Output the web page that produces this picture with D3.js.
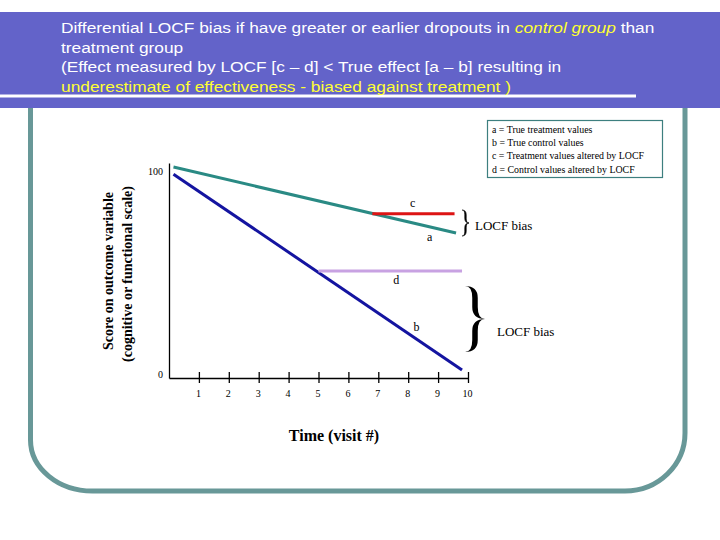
<!DOCTYPE html>
<html><head><meta charset="utf-8">
<script src="https://cdn.jsdelivr.net/npm/d3@7"></script>
<style>body{margin:0;background:#fff}svg{display:block}</style>
</head><body>
<svg id="c" width="720" height="540"></svg>
<script>
// ---- data ----
const titleLines = [
  [{t:"Differential LOCF bias if have greater or earlier dropouts in ", c:"w"}, {t:"control group", c:"yi"}, {t:" than", c:"w"}],
  [{t:"treatment group", c:"w"}],
  [{t:"(Effect measured by LOCF [c \u2013 d] < True effect [a \u2013 b] resulting in", c:"w"}],
  [{t:"underestimate of effectiveness - biased against treatment )", c:"y"}]
];
const xTicks = [1,2,3,4,5,6,7,8,9,10];
const yTicks = [0,100];
const trueTreatment = [[0.15,104],[9.6,71.5]];   // a (teal)
const trueControl   = [[0.15,100.5],[9.8,4]];    // b (blue)
const locfTreatment = [[6.8,81],[9.55,81]];      // c (red)
const locfControl   = [[5.0,52.8],[9.8,52.8]];   // d (lavender)
const pointLabels = [
  {t:"c", x:8.15, y:86.5},
  {t:"a", x:8.72, y:69.5},
  {t:"d", x:7.6, y:48.3},
  {t:"b", x:8.28, y:25}
];
const legendLines = [
  "a = True treatment values",
  "b = True control values",
  "c = Treatment values altered by LOCF",
  "d = Control values altered by LOCF"
];
const biasLabel = "LOCF bias";

// ---- drawing ----
const svg = d3.select("#c");
// banner
svg.append("rect").attr("x",0).attr("y",12).attr("width",720).attr("height",96).attr("fill","#6363c9");
svg.append("rect").attr("x",0).attr("y",94.5).attr("width",636).attr("height",3).attr("fill","#ffffff");
const colors = {w:"#ffffff", y:"#ffff33", yi:"#ffff33"};
const tg = svg.append("g").attr("transform","translate(61,0) scale(1.118,1)");
titleLines.forEach((line,i)=>{
  const t = tg.append("text").attr("x",0).attr("y",33.5+i*19.5)
    .attr("font-family","Liberation Sans, Arial, sans-serif").attr("font-size",15.5);
  line.forEach(s=>{
    t.append("tspan").text(s.t).attr("fill",colors[s.c]).attr("font-style", s.c==="yi"?"italic":"normal");
  });
});
// frame
svg.append("path")
  .attr("d","M30.5,108 L30.5,440 A62,51 0 0 0 92.5,491 L625,491 A60,58 0 0 0 685,433 L685,108")
  .attr("fill","none").attr("stroke","#689898").attr("stroke-width",5);

const x = d3.scaleLinear().domain([0,10]).range([169,468]);
const y = d3.scaleLinear().domain([0,106]).range([378,163]);

// x axis
const gx = svg.append("g").attr("transform",`translate(0,${y(0)})`)
  .call(d3.axisBottom(x).tickValues(xTicks).tickSize(5).tickPadding(7).tickSizeOuter(0));
gx.select(".domain").attr("stroke","#000").attr("stroke-width",1.3);
gx.selectAll(".tick line").attr("y1",-6).attr("y2",5).attr("stroke","#000").attr("stroke-width",1.3);
gx.selectAll(".tick text").attr("font-family","Liberation Serif, Times New Roman, serif").attr("font-size",10).attr("fill","#000").attr("dx",-1);
// y axis
const gy = svg.append("g").attr("transform",`translate(${x(0)},0)`)
  .call(d3.axisLeft(y).tickValues(yTicks).tickSize(0).tickPadding(6).tickSizeOuter(0));
gy.select(".domain").attr("stroke","#000").attr("stroke-width",1.3);
gy.selectAll(".tick text").attr("font-family","Liberation Serif, Times New Roman, serif").attr("font-size",10).attr("fill","#000").attr("dy","-0.05em");

const line = d3.line().x(d=>x(d[0])).y(d=>y(d[1]));
const series = [
  {d:trueTreatment, c:"#2a8a84"},
  {d:trueControl, c:"#1414a0"},
  {d:locfTreatment, c:"#dd1414"},
  {d:locfControl, c:"#c8a2e2"}
];
series.forEach(s=>{
  svg.append("path").attr("d",line(s.d)).attr("fill","none").attr("stroke",s.c).attr("stroke-width",3);
});
// point labels
pointLabels.forEach(p=>{
  svg.append("text").attr("x",x(p.x)).attr("y",y(p.y)).attr("dy","0.35em").attr("text-anchor","middle")
    .attr("font-family","Liberation Serif, Times New Roman, serif").attr("font-size",12).text(p.t);
});
// braces
function brace(x0,y1,y2,w,t){
  const h=y2-y1, mid=(y1+y2)/2, xm=x0+w/2, q=h*0.18;
  return `M${x0},${y1} Q${xm+t/2},${y1} ${xm+t/2},${y1+q} L${xm+t/2},${mid-q} Q${xm+t/2},${mid} ${x0+w},${mid}`+
    ` Q${xm+t/2},${mid} ${xm+t/2},${mid+q} L${xm+t/2},${y2-q} Q${xm+t/2},${y2} ${x0},${y2}`+
    ` Q${xm-t/2},${y2} ${xm-t/2},${y2-q} L${xm-t/2},${mid+q} Q${xm-t/2},${mid} ${x0+w},${mid}`+
    ` Q${xm-t/2},${mid} ${xm-t/2},${mid-q} L${xm-t/2},${y1+q} Q${xm-t/2},${y1} ${x0},${y1} Z`;
}
svg.append("path").attr("d",brace(462,210,236,7,1.6)).attr("fill","#000").attr("stroke","#000").attr("stroke-width",0.5);
svg.append("path").attr("d",brace(465,286,352,20,5.5)).attr("fill","#000");
svg.append("text").attr("x",475).attr("y",229.5).attr("font-family","Liberation Serif, Times New Roman, serif").attr("font-size",13).text(biasLabel);
svg.append("text").attr("x",497).attr("y",336).attr("font-family","Liberation Serif, Times New Roman, serif").attr("font-size",13).text(biasLabel);

// legend box
svg.append("rect").attr("x",487.5).attr("y",120.5).attr("width",175).attr("height",57)
  .attr("fill","#fff").attr("stroke","#3d7f7f").attr("stroke-width",1.2);
legendLines.forEach((l,i)=>{
  svg.append("text").attr("x",492).attr("y",132.5+i*13.4)
    .attr("font-family","Liberation Serif, Times New Roman, serif").attr("font-size",9.9).text(l);
});

// axis titles
svg.append("text").attr("transform","translate(113,271) rotate(-90)").attr("text-anchor","middle")
  .attr("font-family","Liberation Serif, Times New Roman, serif").attr("font-size",14).attr("font-weight","bold").text("Score on outcome variable");
svg.append("text").attr("transform","translate(132,274) rotate(-90)").attr("text-anchor","middle")
  .attr("font-family","Liberation Serif, Times New Roman, serif").attr("font-size",14).attr("font-weight","bold").text("(cognitive or functional scale)");
svg.append("text").attr("x",334).attr("y",440.5).attr("text-anchor","middle")
  .attr("font-family","Liberation Serif, Times New Roman, serif").attr("font-size",16).attr("font-weight","bold").text("Time (visit #)");
</script>
</body></html>
